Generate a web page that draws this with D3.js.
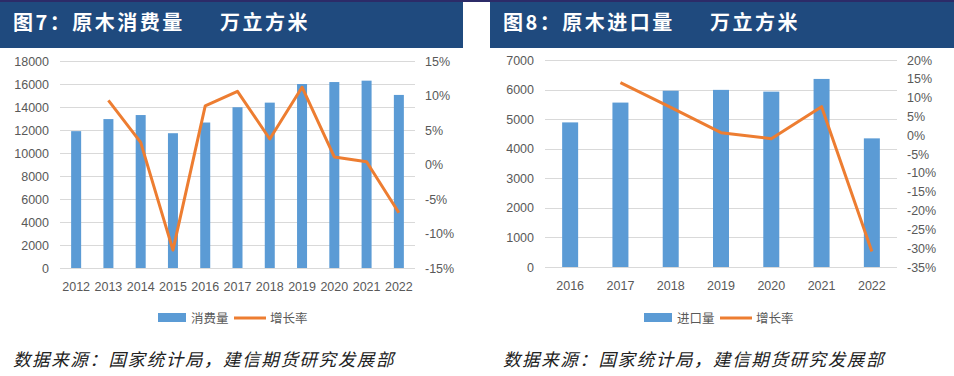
<!DOCTYPE html>
<html lang="zh">
<head>
<meta charset="utf-8">
<title>原木消费量 / 进口量</title>
<script src="https://cdn.jsdelivr.net/npm/d3@7/dist/d3.min.js"></script>
<style>
  body { margin: 0; background: #fff; }
  svg { display: block; }
  .axis text { font-family: "Liberation Sans", Arial, sans-serif; font-size: 12.5px; fill: #595959; }
  .axis path, .axis line { display: none; }
  .grid line { stroke: #d9d9d9; stroke-width: 1; shape-rendering: crispEdges; }
  .grid path { display: none; }
  .title { font-family: "Noto Sans CJK SC", sans-serif; font-weight: bold; font-size: 20px; letter-spacing: 2.5px; fill: #fff; }
  .legend text { font-family: "Noto Sans CJK SC", sans-serif; font-size: 12.5px; fill: #595959; }
  .source { font-family: "Noto Sans CJK SC", sans-serif; font-style: italic; font-size: 17.5px; letter-spacing: 1.6px; fill: #222; }
</style>
</head>
<body>
<script>
// ---- data: 图7 原木消费量 ----
var years7 = ["2012","2013","2014","2015","2016","2017","2018","2019","2020","2021","2022"];
var consumption = [11900, 12950, 13300, 11720, 12650, 13980, 14380, 16000, 16170, 16290, 15050];
var growth7 = [null, 9.3, 3.2, -12.4, 8.5, 10.6, 3.7, 11.2, 1.1, 0.4, -7.0];
var leftTicks7 = [0, 2000, 4000, 6000, 8000, 10000, 12000, 14000, 16000, 18000];
var rightTicks7 = [-15, -10, -5, 0, 5, 10, 15];

// ---- data: 图8 原木进口量 ----
var years8 = ["2016","2017","2018","2019","2020","2021","2022"];
var imports = [4890, 5560, 5960, 5990, 5930, 6360, 4350];
var growth8 = [null, 14.0, 7.4, 0.7, -0.9, 7.6, -30.9];
var leftTicks8 = [0, 1000, 2000, 3000, 4000, 5000, 6000, 7000];
var rightTicks8 = [-35, -30, -25, -20, -15, -10, -5, 0, 5, 10, 15, 20];

var W = 954, H = 376;
var barColor = "#5b9bd5", lineColor = "#ed7d31";

var svg = d3.select("body").append("svg")
  .attr("width", W).attr("height", H);

// thin dark strip across the top
svg.append("rect").attr("x", 0).attr("y", 0).attr("width", W).attr("height", 2).attr("fill", "#2c2b68");

function drawPanel(o) {
  var g = svg.append("g");

  // title bar
  g.append("rect")
    .attr("x", o.barX).attr("y", 2)
    .attr("width", o.barW).attr("height", 46)
    .attr("fill", "#1f4a7e");
  g.append("text").attr("class", "title")
    .attr("x", o.barX + 13).attr("y", 30)
    .text(o.title);
  g.append("text").attr("class", "title")
    .attr("x", o.barX + 220).attr("y", 30)
    .text("万立方米");

  var x = d3.scaleBand().domain(o.cats).range([o.x0, o.x1]);
  var yL = d3.scaleLinear().domain(o.leftDomain).range([o.yBottom, o.yTop]);
  var yR = d3.scaleLinear().domain(o.rightDomain).range([o.yBottom, o.yTop]);

  // gridlines
  g.append("g").attr("class", "grid")
    .attr("transform", "translate(" + o.x0 + ",0)")
    .call(d3.axisLeft(yL).tickValues(o.leftTicks).tickSize(-(o.x1 - o.x0)).tickFormat(""));

  // bars
  g.selectAll("rect.bar").data(o.values).enter().append("rect")
    .attr("class", "bar")
    .attr("x", function (d, i) { return x(o.cats[i]) + x.bandwidth() / 2 - o.barWidth / 2; })
    .attr("y", function (d) { return yL(d); })
    .attr("width", o.barWidth)
    .attr("height", function (d) { return yL(0) - yL(d); })
    .attr("fill", barColor);

  // growth line
  var pts = o.growth.map(function (d, i) { return [o.cats[i], d]; }).filter(function (d) { return d[1] !== null; });
  var line = d3.line()
    .x(function (d) { return x(d[0]) + x.bandwidth() / 2; })
    .y(function (d) { return yR(d[1]); });
  g.append("path").datum(pts)
    .attr("d", line)
    .attr("fill", "none")
    .attr("stroke", lineColor)
    .attr("stroke-width", 3)
    .attr("stroke-linejoin", "round");

  // axes
  g.append("g").attr("class", "axis")
    .attr("transform", "translate(" + (o.x0 - 8) + ",0)")
    .call(d3.axisLeft(yL).tickValues(o.leftTicks).tickSize(0).tickFormat(d3.format("d")));
  g.append("g").attr("class", "axis")
    .attr("transform", "translate(" + (o.x1 + 7) + ",0)")
    .call(d3.axisRight(yR).tickValues(o.rightTicks).tickSize(0).tickFormat(function (d) { return d + "%"; }));
  g.append("g").attr("class", "axis")
    .attr("transform", "translate(0," + (o.yBottom + 11) + ")")
    .call(d3.axisBottom(x).tickSize(0));

  // legend
  var lg = g.append("g").attr("class", "legend").attr("transform", "translate(" + o.legendX + ",318)");
  lg.append("rect").attr("x", 0).attr("y", -5).attr("width", 28).attr("height", 9).attr("fill", barColor);
  lg.append("text").attr("x", 33).attr("y", 4.5).text(o.barName);
  lg.append("line").attr("x1", 76).attr("x2", 108).attr("y1", 0).attr("y2", 0)
    .attr("stroke", lineColor).attr("stroke-width", 3);
  lg.append("text").attr("x", 112).attr("y", 4.5).text("增长率");

  // source
  g.append("text").attr("class", "source")
    .attr("x", o.barX + 13).attr("y", 366)
    .text("数据来源：国家统计局，建信期货研究发展部");
}

drawPanel({
  barX: 0, barW: 463,
  title: "图7：原木消费量",
  cats: years7, values: consumption, growth: growth7,
  leftDomain: [0, 18000], rightDomain: [-15, 15],
  leftTicks: leftTicks7, rightTicks: rightTicks7,
  x0: 60, x1: 415, yTop: 61, yBottom: 268,
  barWidth: 10, barName: "消费量", legendX: 158
});

drawPanel({
  barX: 490, barW: 464,
  title: "图8：原木进口量",
  cats: years8, values: imports, growth: growth8,
  leftDomain: [0, 7000], rightDomain: [-35, 20],
  leftTicks: leftTicks8, rightTicks: rightTicks8,
  x0: 545, x1: 897, yTop: 60, yBottom: 267,
  barWidth: 16, barName: "进口量", legendX: 644
});
</script>
</body>
</html>
